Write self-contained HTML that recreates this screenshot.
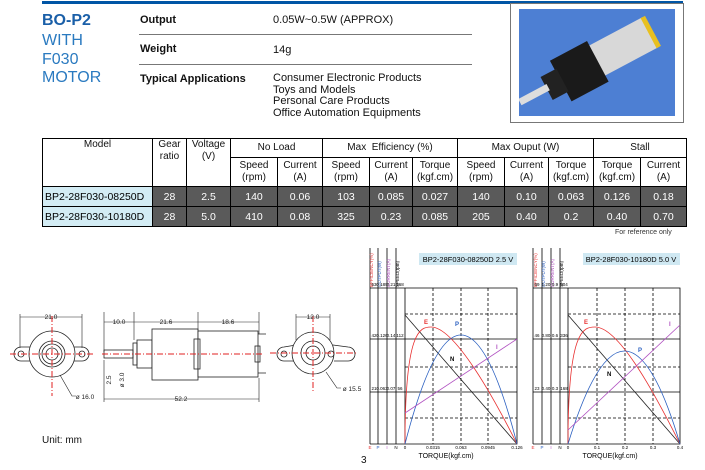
<!DOCTYPE html>
<html><head><meta charset="utf-8"><style>
body{margin:0;width:705px;height:470px;background:#fff;position:relative;overflow:hidden;font-family:"Liberation Sans",Arial,sans-serif;color:#111}
.a{position:absolute;white-space:nowrap}
table{position:absolute;left:42px;top:138px;border-collapse:collapse;font-size:10px}
td{border:1px solid #000;text-align:center;padding:0;line-height:12px;vertical-align:top}
.d td{background:#5a5a5a;color:#fff;height:19px;vertical-align:middle;font-size:10.5px}
.d td.m{background:#d3ecf4;color:#000;text-align:left;padding-left:2px}
</style></head><body>
<div class="a" style="left:42px;top:1px;width:641px;height:3px;background:#0055a5"></div>
<div class="a" style="left:42px;top:12px;font-size:16px;font-weight:bold;color:#1a5fa8">BO-P2</div>
<div class="a" style="left:42px;top:32px;font-size:16px;line-height:18.5px;color:#2a7ac0">WITH<br>F030<br>MOTOR</div>
<div class="a" style="left:140px;top:14px;font-size:11px;font-weight:bold">Output</div>
<div class="a" style="left:273px;top:14px;font-size:11px">0.05W~0.5W (APPROX)</div>
<div class="a" style="left:139px;top:34px;width:333px;height:1px;background:#777"></div>
<div class="a" style="left:140px;top:43px;font-size:11px;font-weight:bold">Weight</div>
<div class="a" style="left:273px;top:44px;font-size:11px">14g</div>
<div class="a" style="left:139px;top:64px;width:333px;height:1px;background:#777"></div>
<div class="a" style="left:140px;top:73px;font-size:11px;font-weight:bold">Typical Applications</div>
<div class="a" style="left:273px;top:73px;font-size:11px;line-height:11.7px">Consumer Electronic Products<br>Toys and Models<br>Personal Care Products<br>Office Automation Equipments</div>
<div class="a" style="left:510px;top:3px;width:172px;height:118px;border:1px solid #777"></div>
<svg class="a" style="left:519px;top:9px" width="156" height="107">
<rect width="156" height="107" fill="#4d7fd3"/>
<g transform="rotate(-28 78 55)">
<rect x="78" y="35" width="62" height="34" fill="#d8d8d8"/>
<rect x="138" y="35" width="5" height="34" fill="#e8c020"/>
<rect x="38" y="30" width="42" height="46" fill="#1a1a1a"/>
<rect x="22" y="40" width="18" height="26" fill="#222"/>
<rect x="-8" y="49" width="32" height="7" fill="#ddd"/>
</g></svg>

<table>
<tr style="height:19px"><td rowspan="2" style="width:109px">Model</td><td rowspan="2" style="width:33px">Gear<br>ratio</td><td rowspan="2" style="width:43px">Voltage<br>(V)</td><td colspan="2" style="vertical-align:middle">No Load</td><td colspan="3" style="vertical-align:middle">Max &nbsp;Efficiency (%)</td><td colspan="3" style="vertical-align:middle">Max Ouput (W)</td><td colspan="2" style="vertical-align:middle">Stall</td></tr>
<tr style="height:29px"><td style="width:46px;vertical-align:middle">Speed<br>(rpm)</td><td style="width:44px;vertical-align:middle">Current<br>(A)</td><td style="width:46px;vertical-align:middle">Speed<br>(rpm)</td><td style="width:42px;vertical-align:middle">Current<br>(A)</td><td style="width:44px;vertical-align:middle">Torque<br>(kgf.cm)</td><td style="width:46px;vertical-align:middle">Speed<br>(rpm)</td><td style="width:43px;vertical-align:middle">Current<br>(A)</td><td style="width:44px;vertical-align:middle">Torque<br>(kgf.cm)</td><td style="width:46px;vertical-align:middle">Torque<br>(kgf.cm)</td><td style="width:45px;vertical-align:middle">Current<br>(A)</td></tr>
<tr class="d"><td class="m">BP2-28F030-08250D</td><td>28</td><td>2.5</td><td>140</td><td>0.06</td><td>103</td><td>0.085</td><td>0.027</td><td>140</td><td>0.10</td><td>0.063</td><td>0.126</td><td>0.18</td></tr>
<tr class="d"><td class="m">BP2-28F030-10180D</td><td>28</td><td>5.0</td><td>410</td><td>0.08</td><td>325</td><td>0.23</td><td>0.085</td><td>205</td><td>0.40</td><td>0.2</td><td>0.40</td><td>0.70</td></tr>
</table>
<div class="a" style="left:615px;top:229px;font-size:7px;color:#333">For reference only</div>
<div class="a" style="left:42px;top:435px;font-size:10px">Unit: mm</div>
<div class="a" style="left:361px;top:455px;font-size:10px">3</div>

<svg class="a" style="left:0;top:0" width="705" height="470" font-family="Liberation Sans,Arial,sans-serif">
<g stroke="#222" fill="none" stroke-width="0.8">
<!-- left view -->
<path d="M21,347 a7,7 0 0 0 0,14 L40,361 M21,347 L40,347 M82,347 a7,7 0 0 1 0,14 L64,361 M82,347 L64,347"/>
<circle cx="52" cy="354" r="23" fill="#fff"/><circle cx="21" cy="354" r="3"/><circle cx="82" cy="354" r="3"/>
<circle cx="52" cy="354" r="13"/><circle cx="52" cy="354" r="10"/><circle cx="52" cy="354" r="6"/>
<path d="M20,314 V348 M82,314 V348 M20,317 H82" stroke-width="0.6"/>
<path d="M60,375 L72,396 H76" stroke-width="0.6"/>
<!-- side view -->
<rect x="104" y="350" width="29" height="8"/><rect x="133" y="343" width="4" height="22"/>
<rect x="137" y="340" width="15" height="28"/>
<rect x="152" y="329" width="46" height="51" fill="#fff"/><rect x="198" y="331" width="60" height="46" fill="#fff"/>
<rect x="194" y="339" width="6" height="30"/><rect x="255" y="346" width="5" height="16"/>
<path d="M258,334 H266 M258,373 H266"/>
<path d="M104,312 V352 M134,312 V340 M198,312 V330 M259,312 V334 M104,360 V402 M259,378 V402 M104,322 H259 M104,399 H259" stroke-width="0.6"/>
<!-- right view -->
<path d="M284,347 a7,7 0 0 0 0,14 L295,361 M284,347 L296,345 M348,347 a7,7 0 0 1 0,14 L334,361 M348,347 L333,345"/>
<circle cx="313" cy="353" r="21" fill="#fff"/><circle cx="284" cy="354" r="3"/><circle cx="331" cy="354" r="3"/>
<circle cx="313" cy="353" r="12"/><circle cx="313" cy="353" r="7"/>
<path d="M296,314 V340 M330,314 V340 M296,317 H330" stroke-width="0.6"/>
<path d="M326,372 L337,388 H341" stroke-width="0.6"/>
</g>
<g stroke="#e02020" stroke-width="1" stroke-dasharray="6,2,1,2">
<path d="M10,354 H95 M52,316 V396 M102,354 H263 M270,353 H358 M313,316 V392"/>
</g>
<g font-size="6.5" fill="#222" text-anchor="middle">
<text x="51" y="319">21.0</text><text x="119" y="324">10.0</text><text x="166" y="324">21.6</text><text x="228" y="324">18.6</text>
<text x="181" y="401">52.2</text><text x="313" y="319">12.0</text>
<text x="85" y="399">ø 16.0</text><text x="352" y="391">ø 15.5</text>
<text transform="translate(111,380) rotate(-90)">2.5</text><text transform="translate(124,380) rotate(-90)">ø 3.0</text>
</g>

<!-- chart 1 -->
<g>
<rect x="419" y="253" width="98" height="12" fill="#cfe8f2"/>
<text x="468" y="262" font-size="7.5" text-anchor="middle">BP2-28F030-08250D  2.5 V</text>
<g stroke="#000" stroke-width="0.8" fill="none">
<path d="M370,288 H517 V444 H370 M370,339 H517 M370,392 H517 M370,248 V444 M378,248 V444 M387,248 V444 M396,248 V444 M405,288 V444"/>
<path d="M405,314 H517 M405,367 H517 M405,418 H517 M433,288 V444 M461,288 V444 M488,288 V444" stroke-dasharray="3,2"/>
<path d="M405,315 L517,444" stroke="#222"/>
<path d="M405,444 C405,330 420,327 431,327 C455,327 495,400 517,444" stroke="#e83030"/>
<path d="M405,444 Q461,226 517,444" stroke="#2a5fc0"/>
<path d="M405,413 L517,339" stroke="#b050c0"/>
</g>
<g font-size="6" font-weight="bold"><text x="424" y="324" fill="#e83030">E</text><text x="455" y="326" fill="#2a5fc0">P</text><text x="450" y="361" fill="#000">N</text><text x="496" y="349" fill="#b050c0">I</text></g>
<g font-size="4.5" text-anchor="middle"><text transform="translate(373,287) rotate(-90)" text-anchor="start" fill="#e83030">EFFICIENCY(%)</text><text transform="translate(381,287) rotate(-90)" text-anchor="start" fill="#2a5fc0">OUTPUT(W)</text><text transform="translate(390,287) rotate(-90)" text-anchor="start" fill="#b050c0">CURRENT(A)</text><text transform="translate(399,287) rotate(-90)" text-anchor="start">SPEED(rpm)</text>
<text x="374" y="286">63</text><text x="382" y="286">0.189</text><text x="391" y="286">0.21</text><text x="400" y="286">168</text>
<text x="374" y="337">42</text><text x="382" y="337">0.126</text><text x="391" y="337">0.14</text><text x="400" y="337">112</text>
<text x="374" y="390">21</text><text x="382" y="390">0.063</text><text x="391" y="390">0.07</text><text x="400" y="390">56</text>
<text x="370" y="449" fill="#e83030">E</text><text x="378" y="449" fill="#2a5fc0">P</text><text x="387" y="449" fill="#b050c0">I</text><text x="396" y="449">N</text>
<text x="405" y="449">0</text><text x="433" y="449">0.0315</text><text x="461" y="449">0.063</text><text x="488" y="449">0.0945</text><text x="517" y="449">0.126</text></g>
<text x="446" y="458" font-size="7" text-anchor="middle">TORQUE(kgf.cm)</text>
</g>
<!-- chart 2 -->
<g>
<rect x="583" y="253" width="97" height="12" fill="#cfe8f2"/>
<text x="631" y="262" font-size="7.5" text-anchor="middle">BP2-28F030-10180D  5.0 V</text>
<g stroke="#000" stroke-width="0.8" fill="none">
<path d="M533,288 H680 V444 H533 M533,339 H680 M533,392 H680 M533,248 V444 M542,248 V444 M551,248 V444 M560,248 V444 M568,288 V444"/>
<path d="M568,314 H680 M568,367 H680 M568,418 H680 M597,288 V444 M625,288 V444 M653,288 V444" stroke-dasharray="3,2"/>
<path d="M568,315 L680,444" stroke="#222"/>
<path d="M568,444 C568,330 583,327 595,327 C620,327 658,400 680,444" stroke="#e83030"/>
<path d="M568,444 Q625,258 680,444" stroke="#2a5fc0"/>
<path d="M568,430 L680,325" stroke="#b050c0"/>
</g>
<g font-size="6" font-weight="bold"><text x="584" y="324" fill="#e83030">E</text><text x="638" y="352" fill="#2a5fc0">P</text><text x="607" y="376" fill="#000">N</text><text x="669" y="326" fill="#b050c0">I</text></g>
<g font-size="4.5" text-anchor="middle"><text transform="translate(537,287) rotate(-90)" text-anchor="start" fill="#e83030">EFFICIENCY(%)</text><text transform="translate(545,287) rotate(-90)" text-anchor="start" fill="#2a5fc0">OUTPUT(W)</text><text transform="translate(554,287) rotate(-90)" text-anchor="start" fill="#b050c0">CURRENT(A)</text><text transform="translate(563,287) rotate(-90)" text-anchor="start">SPEED(rpm)</text>
<text x="537" y="286">69</text><text x="546" y="286">1.20</text><text x="555" y="286">0.9</text><text x="564" y="286">504</text>
<text x="537" y="337">46</text><text x="546" y="337">0.80</text><text x="555" y="337">0.6</text><text x="564" y="337">336</text>
<text x="537" y="390">23</text><text x="546" y="390">0.40</text><text x="555" y="390">0.3</text><text x="564" y="390">168</text>
<text x="533" y="449" fill="#e83030">E</text><text x="542" y="449" fill="#2a5fc0">P</text><text x="551" y="449" fill="#b050c0">I</text><text x="560" y="449">N</text>
<text x="568" y="449">0</text><text x="597" y="449">0.1</text><text x="625" y="449">0.2</text><text x="653" y="449">0.3</text><text x="680" y="449">0.4</text></g>
<text x="610" y="458" font-size="7" text-anchor="middle">TORQUE(kgf.cm)</text>
</g>
</svg>
</body></html>
